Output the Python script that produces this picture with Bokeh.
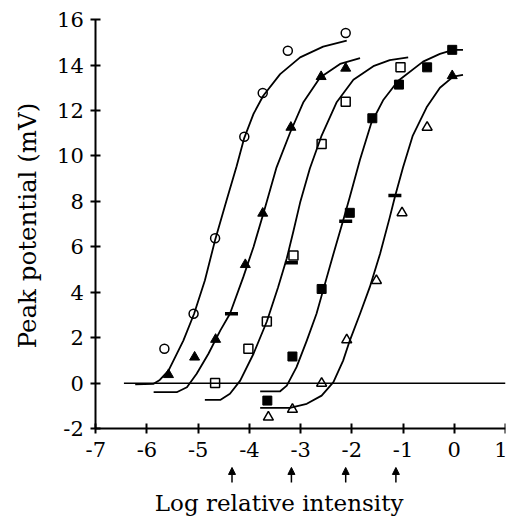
import math
from bokeh.plotting import figure
from bokeh.models import FixedTicker, Range1d, Arrow, NormalHead, ColumnDataSource, Label
from bokeh.embed import file_html
from bokeh.resources import INLINE

# ---------------- data ----------------
x_ticks = [-7, -6, -5, -4, -3, -2, -1, 0, 1]
x_tick_labels = ["-7", "-6", "-5", "-4", "-3", "-2", "-1", "0", "1"]
y_ticks = [-2, 0, 2, 4, 6, 8, 10, 12, 14, 16]
y_tick_labels = ["-2", "0", "2", "4", "6", "8", "10", "12", "14", "16"]
x_title = "Log relative intensity"
y_title = "Peak potential (mV)"

# measured points (log relative intensity, peak potential mV)
open_circle_x = [-5.66, -5.09, -4.67, -4.10, -3.74, -3.25, -2.12]
open_circle_y = [1.52, 3.06, 6.38, 10.85, 12.77, 14.63, 15.41]

filled_triangle_x = [-5.58, -5.07, -4.66, -4.08, -3.74, -3.19, -2.60, -2.12, -0.04]
filled_triangle_y = [0.38, 1.15, 1.93, 5.22, 7.48, 11.26, 13.49, 13.86, 13.53]

open_square_x = [-4.67, -4.02, -3.66, -3.14, -2.59, -2.12, -1.05]
open_square_y = [0.01, 1.52, 2.72, 5.62, 10.53, 12.39, 13.90]

filled_square_x = [-3.65, -3.16, -2.59, -2.04, -1.60, -1.08, -0.53, -0.04]
filled_square_y = [-0.76, 1.18, 4.15, 7.50, 11.66, 13.14, 13.90, 14.67]

open_triangle_x = [-3.63, -3.16, -2.59, -2.10, -1.52, -1.02, -0.53]
open_triangle_y = [-1.49, -1.15, 0.00, 1.91, 4.52, 7.50, 11.26]

dash_x = [-4.35, -3.18, -2.12, -1.16]
dash_y = [3.06, 5.30, 7.13, 8.26]

arrow_x = [-4.34, -3.18, -2.12, -1.14]

# fitted curves, points
curve_a_x = [-6.23, -5.87, -5.75, -5.58, -5.29, -5.08, -4.87, -4.67, -4.44, -4.25,
             -4.10, -3.92, -3.73, -3.40, -3.01, -2.56, -2.10]
curve_a_y = [-0.05, -0.02, 0.15, 0.56, 1.88, 3.06, 4.52, 6.30, 8.10, 9.55,
             10.80, 11.85, 12.65, 13.60, 14.34, 14.81, 15.07]

curve_b_x = [-5.87, -5.42, -5.22, -5.03, -4.80, -4.57, -4.38, -4.12, -3.92, -3.73,
             -3.47, -3.21, -2.95, -2.62, -2.23, -1.84]
curve_b_y = [-0.39, -0.39, -0.17, 0.42, 1.30, 2.32, 3.06, 4.67, 6.00, 7.45,
             9.50, 11.00, 12.35, 13.45, 14.05, 14.31]

curve_c_x = [-4.87, -4.57, -4.38, -4.18, -3.92, -3.66, -3.44, -3.27, -3.14, -3.01,
             -2.82, -2.59, -2.30, -1.97, -1.58, -1.26, -0.90]
curve_c_y = [-0.73, -0.73, -0.46, 0.12, 1.30, 2.72, 4.23, 5.50, 6.70, 7.95,
             9.45, 10.90, 12.35, 13.35, 13.95, 14.22, 14.34]

curve_d_x = [-3.79, -3.40, -3.27, -3.08, -2.88, -2.69, -2.56, -2.36, -2.17, -2.04,
             -1.84, -1.62, -1.39, -1.10, -0.61, -0.28, -0.02, 0.17]
curve_d_y = [-0.35, -0.35, -0.10, 0.71, 1.88, 3.06, 4.10, 5.69, 7.16, 8.20,
             9.85, 11.45, 12.45, 13.30, 14.15, 14.49, 14.67, 14.67]

curve_e_x = [-3.79, -3.21, -2.88, -2.59, -2.36, -2.17, -2.04, -1.84, -1.65, -1.45,
             -1.26, -1.16, -1.00, -0.81, -0.54, -0.28, -0.02, 0.17]
curve_e_y = [-1.08, -1.08, -0.90, -0.54, 0.05, 1.00, 1.88, 3.06, 4.23, 5.69,
             7.30, 8.20, 9.50, 10.90, 12.14, 13.00, 13.49, 13.57]

baseline_x = [-6.45, 1.0]
baseline_y = [0.0, 0.0]

# ---------------- figure ----------------
FONT = "DejaVu Serif"

# the frame covers the whole canvas; the axes sit at fixed data locations
p = figure(width=507, height=519, output_backend="svg", toolbar_location=None,
           x_range=Range1d(-8.86, 1), y_range=Range1d(-5.99, 16.4),
           min_border_left=0, min_border_right=2, min_border_top=10,
           min_border_bottom=0)
p.outline_line_color = None
p.grid.visible = False
p.background_fill_color = "white"
p.border_fill_color = "white"

# axes
p.xaxis.ticker = FixedTicker(ticks=x_ticks)
p.yaxis.ticker = FixedTicker(ticks=y_ticks)
p.xaxis.major_label_overrides = dict(zip(x_ticks, x_tick_labels))
p.yaxis.major_label_overrides = dict(zip(y_ticks, y_tick_labels))
p.xaxis.fixed_location = y_ticks[0]
p.yaxis.fixed_location = x_ticks[0]
p.xaxis.bounds = (x_ticks[0], x_ticks[-1])
p.yaxis.bounds = (y_ticks[0], y_ticks[-1])
for ax in (p.xaxis, p.yaxis):
    ax.axis_line_width = 2
    ax.axis_line_color = "black"
    ax.major_tick_line_width = 2
    ax.major_tick_line_color = "black"
    ax.major_tick_in = 5
    ax.major_tick_out = 5
    ax.minor_tick_line_color = None
    ax.major_label_text_font = FONT
    ax.major_label_text_font_size = "21px"
    ax.major_label_text_color = "black"
p.xaxis.major_label_standoff = 8
p.yaxis.major_label_standoff = 7

# axis titles
p.add_layout(Label(x=-3.42, y=-5.25, text=x_title, text_font=FONT,
                   text_font_size="23px", text_color="black",
                   text_align="center", text_baseline="middle"))
p.add_layout(Label(x=27, x_units="screen", y=6.94, text=y_title, text_font=FONT,
                   text_font_size="24.5px", text_color="black",
                   text_align="center", text_baseline="middle",
                   angle=math.pi / 2))

# zero baseline
p.line(baseline_x, baseline_y, line_color="black", line_width=1.5)

# fitted curves
for cx, cy in [(curve_a_x, curve_a_y), (curve_b_x, curve_b_y), (curve_c_x, curve_c_y),
               (curve_d_x, curve_d_y), (curve_e_x, curve_e_y)]:
    p.line(cx, cy, line_color="black", line_width=1.8, line_join="round")

# data markers
p.scatter(open_circle_x, open_circle_y, marker="circle", size=9,
          fill_color=None, line_color="black", line_width=1.5)
p.scatter(filled_triangle_x, filled_triangle_y, marker="triangle", size=10,
          fill_color="black", line_color="black", line_width=1)
p.scatter(open_square_x, open_square_y, marker="square", size=9,
          fill_color=None, line_color="black", line_width=1.5)
p.scatter(filled_square_x, filled_square_y, marker="square", size=9,
          fill_color="black", line_color="black", line_width=1)
p.scatter(open_triangle_x, open_triangle_y, marker="triangle", size=10,
          fill_color=None, line_color="black", line_width=1.5)
p.scatter(dash_x, dash_y, marker="dash", size=13,
          line_color="black", line_width=3.5)

# arrows under the axis
arrow_src = ColumnDataSource(dict(x=arrow_x, y0=[-4.36] * len(arrow_x),
                                  y1=[-3.70] * len(arrow_x)))
p.add_layout(Arrow(end=NormalHead(size=7, fill_color="black", line_color="black"),
                   x_start="x", y_start="y0", x_end="x", y_end="y1",
                   source=arrow_src, line_width=1.5, line_color="black"))

open("out.html", "w").write(file_html(p, INLINE))
